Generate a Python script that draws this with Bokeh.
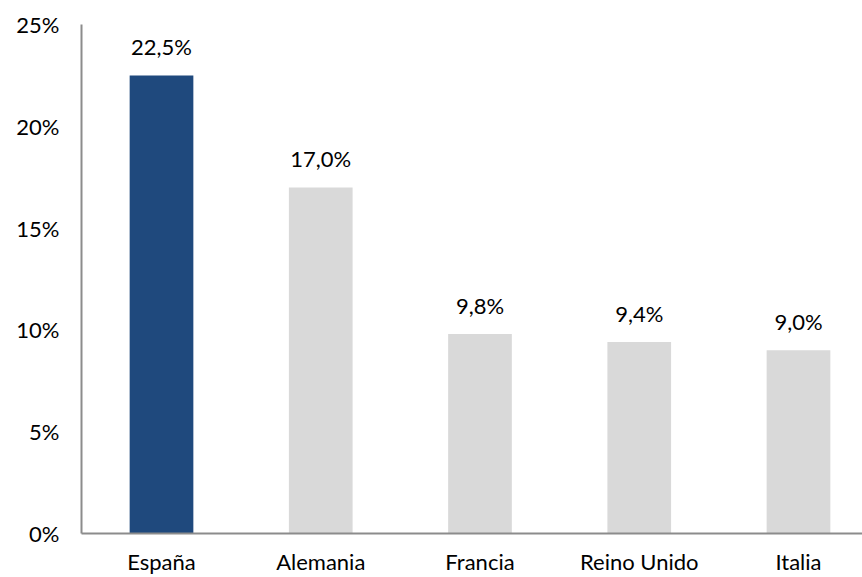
from bokeh.plotting import figure
from bokeh.models import ColumnDataSource, FixedTicker, Range1d, LabelSet
from bokeh.core.properties import value
from bokeh.embed import file_html
from bokeh.resources import INLINE

countries = ["España", "Alemania", "Francia", "Reino Unido", "Italia"]
values = [22.5, 17.0, 9.8, 9.4, 9.0]
value_labels = ["22,5%", "17,0%", "9,8%", "9,4%", "9,0%"]
bar_colors = ["#1F497D", "#D9D9D9", "#D9D9D9", "#D9D9D9", "#D9D9D9"]
y_ticks = [0, 5, 10, 15, 20, 25]
y_tick_labels = ["0%", "5%", "10%", "15%", "20%", "25%"]

FONT = "Lato"
xs = [i + 1 for i in range(len(countries))]

src = ColumnDataSource(dict(x=xs, top=values, color=bar_colors, label=value_labels))

p = figure(width=862, height=577, output_backend="svg", toolbar_location=None,
           x_range=Range1d(0.4976, 5.402), y_range=Range1d(0, 25),
           min_border_left=81, min_border_right=0, min_border_top=24, min_border_bottom=44)

p.vbar(x="x", top="top", bottom=0, width=0.40, color="color", line_color=None, source=src)

labels = LabelSet(x="x", y="top", text="label", source=src, text_align="center",
                  text_baseline="alphabetic", y_offset=20, text_font_size="22px",
                  text_font=value(FONT), text_color="#000000")
p.add_layout(labels)

p.xgrid.visible = False
p.ygrid.visible = False
p.outline_line_color = None
p.background_fill_color = "white"
p.border_fill_color = "white"

p.xaxis.ticker = FixedTicker(ticks=xs)
p.xaxis.major_label_overrides = {x: c for x, c in zip(xs, countries)}
p.yaxis.ticker = FixedTicker(ticks=y_ticks)
p.yaxis.major_label_overrides = {t: l for t, l in zip(y_ticks, y_tick_labels)}

for ax in (p.xaxis, p.yaxis):
    ax.axis_line_color = "#8C8C8C"
    ax.axis_line_width = 2
    ax.major_tick_line_color = None
    ax.minor_tick_line_color = None
    ax.major_tick_out = 0
    ax.major_tick_in = 0
    ax.minor_tick_out = 0
    ax.minor_tick_in = 0
    ax.major_label_text_font = FONT
    ax.major_label_text_font_size = "22px"
    ax.major_label_text_color = "#000000"

p.xaxis.major_label_standoff = 14
p.yaxis.major_label_standoff = 22

open("out.html", "w").write(file_html(p, INLINE))
